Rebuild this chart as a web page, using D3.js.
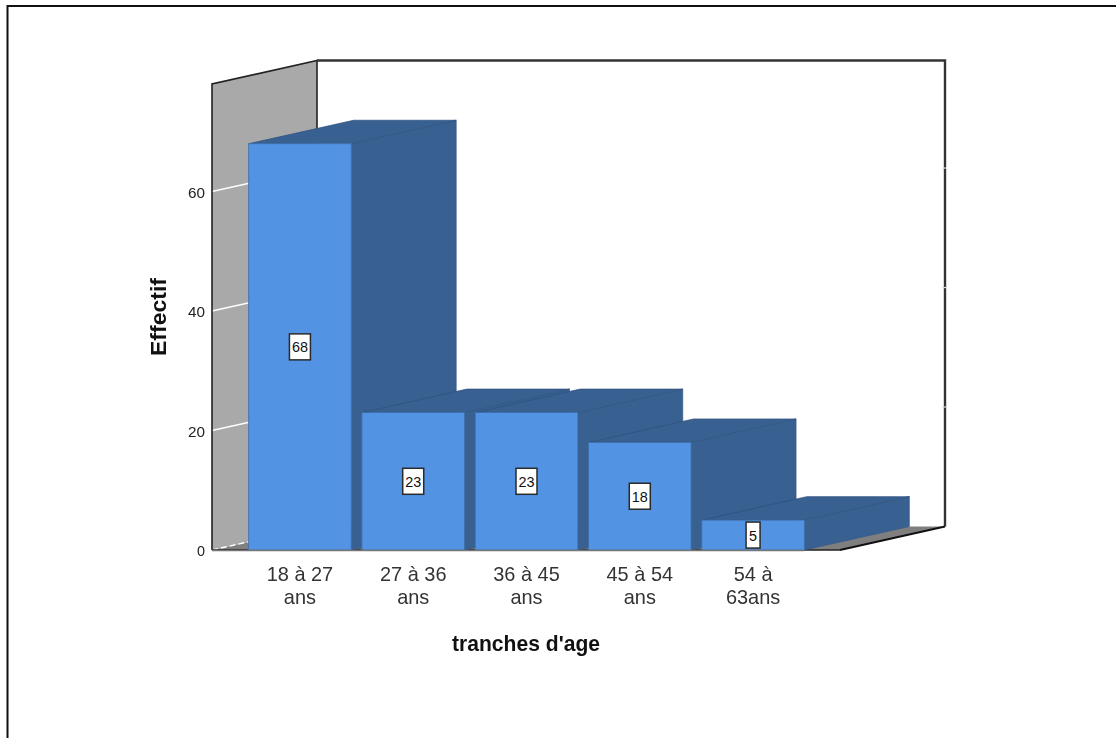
<!DOCTYPE html>
<html>
<head>
<meta charset="utf-8">
<script src="https://cdn.jsdelivr.net/npm/d3@7/dist/d3.min.js"></script>
<style>
html,body{margin:0;padding:0;background:#fff;overflow:hidden}
svg{display:block;filter:blur(0.35px)}
text{font-family:"Liberation Sans",Arial,sans-serif}
</style>
</head>
<body>
<svg id="c" width="1116" height="738"></svg>
<script>
const categories = [["18 à 27","ans"],["27 à 36","ans"],["36 à 45","ans"],["45 à 54","ans"],["54 à","63ans"]];
const values = [68,23,23,18,5];
const yTicks = [0,20,40,60];
const yMax = 78;
const xTitle = "tranches d'age";
const yTitle = "Effectif";

const svg = d3.select("#c");
const depthX = 105, depthY = -23.5;
const left = 212, floorRight = 840, baseY = 550, topY = 84;

const x = d3.scaleBand().domain(d3.range(values.length)).range([243,810]).paddingInner(0.095).paddingOuter(0.05);
const y = d3.scaleLinear().domain([0,yMax]).range([baseY,topY]);
const poly = pts => "M" + pts.map(p=>p.join(",")).join("L") + "Z";

// page frame
svg.append("path").attr("d","M7.5,738V6H1116").attr("fill","none").attr("stroke","#111").attr("stroke-width",2);

// side wall
svg.append("path").attr("d",poly([[left,y(yMax)],[left+depthX,y(yMax)+depthY],[left+depthX,baseY+depthY],[left,baseY]])).attr("fill","#a9a9a9");
// floor
svg.append("path").attr("d",poly([[left,baseY],[left+depthX,baseY+depthY],[left+depthX+628,baseY+depthY],[floorRight,baseY]])).attr("fill","#7f7f7f");

// gridlines
const grid = svg.append("g").attr("fill","none").attr("stroke","#ffffff").attr("stroke-width",1.4);
yTicks.forEach(t=>{
  grid.append("path").attr("d",`M${left},${y(t)}L${left+depthX},${y(t)+depthY}`)
    .attr("stroke-dasharray", t===0 ? "6 3" : null);
});

// wall outlines
svg.append("path").attr("d",`M${left},${baseY}V${y(yMax)}L${left+depthX},${y(yMax)+depthY}V${baseY+depthY}`).attr("fill","none").attr("stroke","#222").attr("stroke-width",1.6);
svg.append("path").attr("d",`M${left+depthX},${y(yMax)+depthY}H${left+depthX+628}V${baseY+depthY}`).attr("fill","none").attr("stroke","#333").attr("stroke-width",2.4);
svg.append("path").attr("d",`M${left+depthX+628},${baseY+depthY}L${floorRight},${baseY}`).attr("fill","none").attr("stroke","#111").attr("stroke-width",1.8);
svg.append("path").attr("d",`M${left},${baseY}H${floorRight}`).attr("fill","none").attr("stroke","#222").attr("stroke-width",1.6);

// back wall tick marks on the right edge
svg.append("g").selectAll("path").data(yTicks.slice(1)).join("path")
  .attr("d",t=>`M${left+depthX+625},${y(t)+depthY}h5`).attr("stroke","#ddd").attr("stroke-width",1.2);

// bars, left to right
const bars = svg.append("g").selectAll("g").data(values).join("g");
bars.append("path").attr("d",(d,i)=>{const a=x(i)+x.bandwidth(),t=y(d);return poly([[a,t],[a+depthX,t+depthY],[a+depthX,baseY+depthY],[a,baseY]]);})
  .attr("fill","#386192").attr("stroke","#35598a").attr("stroke-width",.7);
bars.append("path").attr("d",(d,i)=>{const a=x(i),b=a+x.bandwidth(),t=y(d);return poly([[a,t],[a+depthX,t+depthY],[b+depthX,t+depthY],[b,t]]);})
  .attr("fill","#386192").attr("stroke","#2c4f7c").attr("stroke-width",.7);
bars.append("rect").attr("x",(d,i)=>x(i)).attr("y",d=>y(d)).attr("width",x.bandwidth()).attr("height",d=>baseY-y(d))
  .attr("fill","#5293e4").attr("stroke","#3f6fa8").attr("stroke-width",.8);

// baseline in front of the bars
svg.append("path").attr("d",`M${left},${baseY+.5}H${x(values.length-1)+x.bandwidth()}`).attr("fill","none").attr("stroke","#777").attr("stroke-width",1.4);

// value labels
const lab = svg.append("g").selectAll("g").data(values).join("g")
  .attr("transform",(d,i)=>`translate(${x(i)+x.bandwidth()/2},${y(d/2)})`);
lab.append("rect").attr("x",d=>d<10?-7:-10.5).attr("y",-13).attr("width",d=>d<10?14:21).attr("height",26)
  .attr("fill","#fff").attr("stroke","#2a2a2a").attr("stroke-width",1.5);
lab.append("text").text(d=>d).attr("text-anchor","middle").attr("y",5.5).attr("font-size",15).attr("fill","#111")
  .attr("textLength",d=>d<10?8:16).attr("lengthAdjust","spacingAndGlyphs");

// y tick labels
svg.append("g").selectAll("text").data(yTicks).join("text")
  .text(d=>d).attr("x",205).attr("y",d=>y(d)+6).attr("text-anchor","end").attr("font-size",15).attr("fill","#222")
  .attr("textLength",d=>d===0?8:17).attr("lengthAdjust","spacingAndGlyphs");

// category labels
const cat = svg.append("g").selectAll("text").data(categories).join("text")
  .attr("text-anchor","middle").attr("font-size",21).attr("fill","#333")
  .attr("transform",(d,i)=>`translate(${x(i)+x.bandwidth()/2},0) scale(0.95,1)`);
cat.selectAll("tspan").data(d=>d).join("tspan").attr("x",0).attr("y",(s,j)=>581+j*23).text(s=>s);

// axis titles
svg.append("text").text(xTitle).attr("x",526).attr("y",651).attr("text-anchor","middle").attr("font-size",21.5).attr("font-weight","bold").attr("fill","#111")
  .attr("textLength",148).attr("lengthAdjust","spacingAndGlyphs");
svg.append("text").text(yTitle).attr("transform","translate(166,317) rotate(-90)").attr("text-anchor","middle").attr("font-size",21.5).attr("font-weight","bold").attr("fill","#111")
  .attr("textLength",78).attr("lengthAdjust","spacingAndGlyphs");
</script>
</body>
</html>
